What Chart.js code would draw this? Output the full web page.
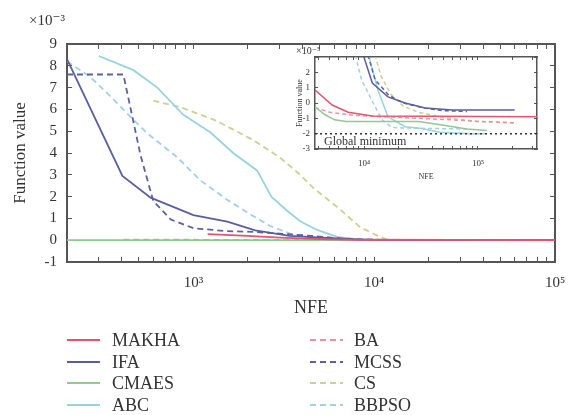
<!DOCTYPE html>
<html><head><meta charset="utf-8">
<script src="https://cdn.jsdelivr.net/npm/chart.js@4.4.0/dist/chart.umd.min.js"></script>
<style>
html,body{margin:0;padding:0;background:#fff;}
#wrap{position:relative;width:569px;height:415px;overflow:hidden;}
#main{position:absolute;left:0;top:0;}
#inset{position:absolute;left:283px;top:40px;}
</style></head><body>
<div id="wrap">
<canvas id="main" width="569" height="415"></canvas>
<canvas id="inset" width="264" height="150"></canvas>
</div>
<script>
// ---------- DATA ----------
const seriesNames = ['MAKHA','IFA','CMAES','ABC','BA','MCSS','CS','BBPSO'];

// main plot (values ×10^-3)
const mainNfeMAKHA = [1200, 2000, 3000, 5000, 8000, 100000];
const mainValMAKHA = [0.28, 0.2, 0.12, 0.05, 0.02, 0];
const mainNfeIFA = [200, 405, 580, 1000, 1540, 2200, 3400, 5500, 8700, 12000, 100000];
const mainValIFA = [8.3, 2.95, 1.95, 1.15, 0.85, 0.45, 0.2, 0.1, 0.03, 0, 0];
const mainNfeCMAES = [200, 100000];
const mainValCMAES = [0, 0];
const mainNfeABC = [300, 466, 632, 880, 1240, 1660, 2250, 2700, 3300, 3900, 4840, 6240, 8000, 11000, 100000];
const mainValABC = [8.45, 7.8, 7.0, 5.75, 4.95, 4.0, 3.2, 2.0, 1.35, 0.87, 0.47, 0.15, 0.04, 0, 0];
const mainNfeBA = [410, 1000, 3000, 100000];
const mainValBA = [0.03, 0.02, 0.01, 0];
const mainNfeMCSS = [200, 410, 510, 600, 750, 1000, 1500, 2200, 3000, 4500, 6500, 10000, 100000];
const mainValMCSS = [7.6, 7.6, 3.9, 1.8, 0.95, 0.55, 0.42, 0.38, 0.3, 0.2, 0.08, 0.02, 0];
const mainNfeCS = [600, 850, 1320, 2140, 3000, 3900, 4600, 6500, 8350, 10500, 12000, 100000];
const mainValCS = [6.4, 6.1, 5.5, 4.6, 3.8, 3.0, 2.4, 1.4, 0.6, 0.2, 0, 0];
const mainNfeBBPSO = [200, 268, 348, 432, 556, 815, 1090, 1540, 2100, 2660, 3430, 4500, 6000, 100000];
const mainValBBPSO = [8.2, 7.5, 6.6, 5.8, 4.9, 3.8, 2.75, 1.85, 1.15, 0.65, 0.3, 0.1, 0.02, 0];

// inset (values ×10^-5)
const insNfeMAKHA = [3700, 5240, 7240, 11800, 330000];
const insValMAKHA = [0.85, -0.13, -0.6, -0.85, -0.9];
const insNfeIFA = [9000, 11800, 16200, 22900, 34300, 60000, 210000];
const insValIFA = [4, 1.3, 0.4, 0.0, -0.33, -0.45, -0.46];
const insNfeCMAES = [3700, 4500, 5500, 7000, 30000, 50000, 80000, 120000];
const insValCMAES = [-0.25, -0.75, -1.1, -1.2, -1.2, -1.45, -1.7, -1.8];
const insNfeABC = [10200, 13200, 16200, 22900, 31000, 46000, 85000, 120000];
const insValABC = [4, 0.85, -0.9, -1.55, -1.65, -1.9, -2.0, -2.0];
const insNfeBA = [3700, 5000, 8000, 15000, 30000, 60000, 100000, 220000];
const insValBA = [-0.3, -0.6, -0.8, -0.9, -1.0, -1.1, -1.2, -1.3];
const insNfeMCSS = [10000, 12500, 16500, 22000, 35000, 50000, 80000];
const insValMCSS = [4, 1.5, 0.5, 0.0, -0.35, -0.5, -0.55];
const insNfeCS = [11500, 14000, 17000, 22000, 30000, 50000, 100000, 220000];
const insValCS = [4, 1.8, 0.6, -0.2, -0.6, -0.95, -1.2, -1.3];
const insNfeBBPSO = [7800, 9500, 12000, 14400, 17600, 30000, 85000];
const insValBBPSO = [4, 1.5, 0.0, -1.1, -1.6, -1.65, -1.7];
const globalMinNfe = [3700, 330000];
const globalMinVal = [-2, -2];

// tick labels
const mainXTickValues = [1000, 10000, 100000];
const mainXTickLabels = ['10³', '10⁴', '10⁵'];
const insXTickValues = [10000, 100000];
const insXTickLabels = ['10⁴', '10⁵'];

// ---------- STYLE ----------
const colors = {
  MAKHA:'#e4546e', IFA:'#5b5e9d', CMAES:'#92c892', ABC:'#98d4dc',
  BA:'#e8939f', MCSS:'#5d60a3', CS:'#c9d193', BBPSO:'#a2d0e4'
};
const dashed = {MAKHA:false, IFA:false, CMAES:false, ABC:false, BA:true, MCSS:true, CS:true, BBPSO:true};
const mainData = {
  MAKHA:[mainNfeMAKHA,mainValMAKHA], IFA:[mainNfeIFA,mainValIFA], CMAES:[mainNfeCMAES,mainValCMAES],
  ABC:[mainNfeABC,mainValABC], BA:[mainNfeBA,mainValBA], MCSS:[mainNfeMCSS,mainValMCSS],
  CS:[mainNfeCS,mainValCS], BBPSO:[mainNfeBBPSO,mainValBBPSO]
};
const insData = {
  MAKHA:[insNfeMAKHA,insValMAKHA], IFA:[insNfeIFA,insValIFA], CMAES:[insNfeCMAES,insValCMAES],
  ABC:[insNfeABC,insValABC], BA:[insNfeBA,insValBA], MCSS:[insNfeMCSS,insValMCSS],
  CS:[insNfeCS,insValCS], BBPSO:[insNfeBBPSO,insValBBPSO]
};
const zip = (xs, ys) => xs.map((x, i) => ({x, y: ys[i]}));
const SERIF = '"Liberation Serif", "DejaVu Serif", serif';
const AXIS = '#555';
const TEXT = '#333';

function logTicks(min, max) {
  const out = [];
  for (let e = Math.floor(Math.log10(min)); e <= Math.ceil(Math.log10(max)); e++) {
    for (let k = 1; k <= 9; k++) {
      const v = k * Math.pow(10, e);
      if (v >= min * 0.999 && v <= max * 1.001) out.push({value: v});
    }
  }
  return out;
}
function fixHeight(h) {
  return s => { s.height = h; s.paddingLeft = 0; s.paddingRight = 0; };
}
function makeDatasets(src, width, dash) {
  const order = ['CS','BBPSO','ABC','BA','MCSS','CMAES','IFA','MAKHA'];
  return seriesNames.map(n => ({
    label: n,
    data: zip(src[n][0], src[n][1]),
    borderColor: colors[n],
    backgroundColor: colors[n],
    borderWidth: width,
    borderDash: dashed[n] ? dash : [],
    pointRadius: 0,
    tension: 0,
    fill: false,
    order: -order.indexOf(n)
  }));
}

// ---------- MAIN CHART ----------
const mainExtras = {
  id: 'mainExtras',
  afterDraw(chart) {
    const ctx = chart.ctx;
    ctx.save();
    ctx.fillStyle = TEXT;
    ctx.font = '15px ' + SERIF;
    ctx.textBaseline = 'middle';
    ctx.textAlign = 'left';
    ctx.fillText('×10⁻³', 29, 21);
    const colLine = [67, 310], colText = [112, 354], rows = [340, 362, 383, 405];
    chart.data.datasets.forEach((ds, i) => {
      const c = i < 4 ? 0 : 1, r = i % 4;
      const y = rows[r];
      ctx.beginPath();
      ctx.strokeStyle = ds.borderColor;
      ctx.lineWidth = 2;
      ctx.setLineDash(ds.borderDash && ds.borderDash.length ? [6, 4] : []);
      ctx.moveTo(colLine[c], y);
      ctx.lineTo(colLine[c] + 33, y);
      ctx.stroke();
      ctx.setLineDash([]);
      ctx.fillStyle = TEXT;
      ctx.font = '18px ' + SERIF;
      ctx.fillText(ds.label, colText[c], y + 1);
    });
    ctx.restore();
  }
};

new Chart(document.getElementById('main'), {
  type: 'line',
  data: { datasets: makeDatasets(mainData, 1.8, [6, 4]) },
  options: {
    responsive: false, animation: false, devicePixelRatio: 1,
    layout: { padding: { top: 44, right: 14, left: 0, bottom: 95 } },
    plugins: { legend: { display: false }, tooltip: { enabled: false } },
    scales: {
      x: {
        type: 'logarithmic', position: 'bottom', min: 200, max: 100000,
        afterBuildTicks: s => { s.ticks = logTicks(200, 100000); },
        afterFit: fixHeight(58),
        ticks: {
          autoSkip: false, maxRotation: 0, padding: 17, color: TEXT,
          font: { family: SERIF, size: 15 },
          callback: v => { const i = mainXTickValues.indexOf(v); return i >= 0 ? mainXTickLabels[i] : ''; }
        },
        grid: { drawOnChartArea: false, drawTicks: true, tickLength: -5, color: AXIS, lineWidth: 1 },
        border: { display: true, color: AXIS, width: 2 },
        title: { display: true, text: 'NFE', color: TEXT, font: { family: SERIF, size: 18 }, padding: { top: 0, bottom: 1 } }
      },
      x2: {
        type: 'logarithmic', position: 'top', min: 200, max: 100000,
        afterBuildTicks: s => { s.ticks = logTicks(200, 100000); },
        afterFit: fixHeight(0),
        ticks: { display: false },
        grid: { drawOnChartArea: false, drawTicks: true, tickLength: -5, color: AXIS, lineWidth: 1 },
        border: { display: true, color: AXIS, width: 2 }
      },
      y: {
        type: 'linear', position: 'left', min: -1, max: 9,
        afterFit: s => { s.width = 67; },
        ticks: { stepSize: 1, padding: 15, color: TEXT, font: { family: SERIF, size: 15 } },
        grid: { drawOnChartArea: false, drawTicks: true, tickLength: -5, color: AXIS, lineWidth: 1 },
        border: { display: true, color: AXIS, width: 2 },
        title: { display: true, text: 'Function value', color: TEXT, font: { family: SERIF, size: 17 }, padding: { top: 10, bottom: 0 } }
      },
      y2: {
        type: 'linear', position: 'right', min: -1, max: 9,
        afterFit: s => { s.width = 0; },
        ticks: { display: false, stepSize: 1 },
        grid: { drawOnChartArea: false, drawTicks: true, tickLength: -5, color: AXIS, lineWidth: 1 },
        border: { display: true, color: AXIS, width: 2 }
      }
    }
  },
  plugins: [mainExtras]
});

// ---------- INSET CHART ----------
const insetExtras = {
  id: 'insetExtras',
  beforeDraw(chart) {
    const a = chart.chartArea, ctx = chart.ctx;
    ctx.save();
    ctx.fillStyle = '#fff';
    ctx.fillRect(a.left, a.top, a.right - a.left, a.bottom - a.top);
    ctx.restore();
  },
  afterDraw(chart) {
    const ctx = chart.ctx, a = chart.chartArea;
    const ys = chart.scales.y;
    ctx.save();
    ctx.fillStyle = TEXT;
    ctx.textBaseline = 'middle';
    ctx.textAlign = 'left';
    ctx.font = '10px ' + SERIF;
    ctx.fillText('×10⁻⁵', 13, 11);
    ctx.font = '12px ' + SERIF;
    ctx.fillText('Global minimum', a.left + 9, ys.getPixelForValue(-2.55));
    ctx.restore();
  }
};
const insDatasets = makeDatasets(insData, 1.5, [4, 3]);
insDatasets.push({
  label: 'Global minimum',
  data: zip(globalMinNfe, globalMinVal),
  borderColor: '#333', borderWidth: 1.5, borderDash: [2, 3],
  pointRadius: 0, fill: false, order: -20
});

new Chart(document.getElementById('inset'), {
  type: 'line',
  data: { datasets: insDatasets },
  options: {
    responsive: false, animation: false, devicePixelRatio: 1,
    layout: { padding: { top: 17, right: 10, left: 0, bottom: 0 } },
    plugins: { legend: { display: false }, tooltip: { enabled: false } },
    scales: {
      x: {
        type: 'logarithmic', position: 'bottom', min: 3700, max: 330000,
        afterBuildTicks: s => { s.ticks = logTicks(3700, 330000); },
        afterFit: fixHeight(41),
        ticks: {
          autoSkip: false, maxRotation: 0, padding: 12, color: TEXT,
          font: { family: SERIF, size: 9 },
          callback: v => { const i = insXTickValues.indexOf(v); return i >= 0 ? insXTickLabels[i] : ''; }
        },
        grid: { drawOnChartArea: false, drawTicks: true, tickLength: -3, color: AXIS, lineWidth: 1 },
        border: { display: true, color: AXIS, width: 1.5 },
        title: { display: true, text: 'NFE', color: TEXT, font: { family: SERIF, size: 8 }, padding: { top: 0, bottom: 8 } }
      },
      x2: {
        type: 'logarithmic', position: 'top', min: 3700, max: 330000,
        afterBuildTicks: s => { s.ticks = logTicks(3700, 330000); },
        afterFit: fixHeight(0),
        ticks: { display: false },
        grid: { drawOnChartArea: false, drawTicks: true, tickLength: -3, color: AXIS, lineWidth: 1 },
        border: { display: true, color: AXIS, width: 1.5 }
      },
      y: {
        type: 'linear', position: 'left', min: -3, max: 3,
        afterFit: s => { s.width = 32; },
        ticks: { stepSize: 1, padding: 8, color: TEXT, font: { family: SERIF, size: 9 },
          callback: v => (v === 3 ? '' : String(v)) },
        grid: { drawOnChartArea: false, drawTicks: true, tickLength: -3, color: AXIS, lineWidth: 1 },
        border: { display: true, color: AXIS, width: 1.5 },
        title: { display: true, text: 'Function value', color: TEXT, font: { family: SERIF, size: 8 }, padding: { top: 12, bottom: 0 } }
      },
      y2: {
        type: 'linear', position: 'right', min: -3, max: 3,
        afterFit: s => { s.width = 0; },
        ticks: { display: false, stepSize: 1 },
        grid: { drawOnChartArea: false, drawTicks: true, tickLength: -3, color: AXIS, lineWidth: 1 },
        border: { display: true, color: AXIS, width: 1.5 }
      }
    }
  },
  plugins: [insetExtras]
});
</script>
</body></html>
